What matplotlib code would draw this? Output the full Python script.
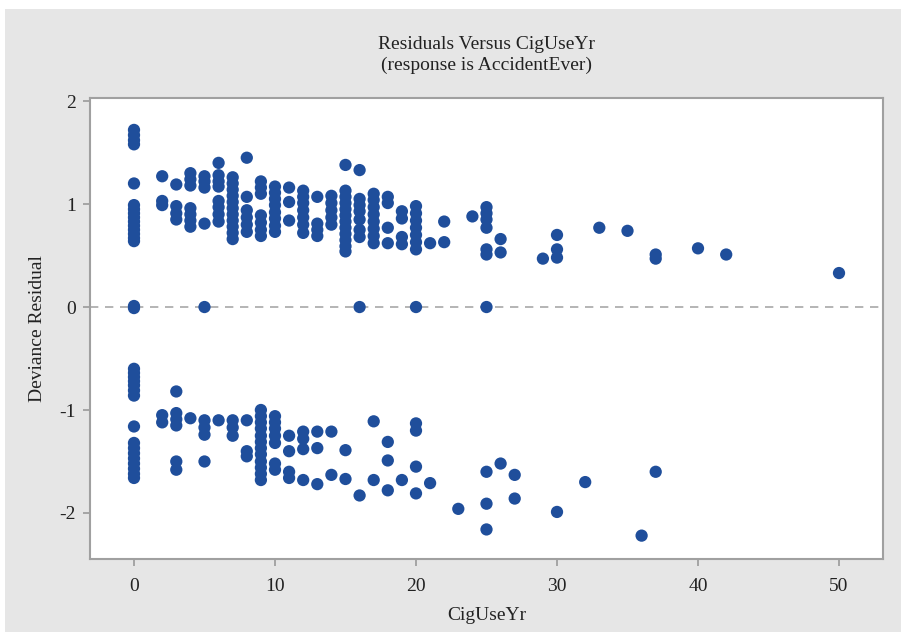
import matplotlib
matplotlib.use("Agg")
import matplotlib.pyplot as plt
from matplotlib.patches import Rectangle

# Observations with positive deviance residuals (CigUseYr, residual)
pos_years = (
    [0] * 15 + [2] * 3 + [3] * 4 + [4] * 7 + [5] * 4 + [6] * 8 + [7] * 11 + [8] * 6
    + [9] * 7 + [10] * 8 + [11] * 3 + [12] * 7 + [13] * 4 + [14] * 5 + [15] * 12
    + [16] * 7 + [17] * 8 + [18] * 4 + [19] * 4 + [20] * 7 + [21] + [22] * 2 + [24]
    + [25] * 6 + [26] * 2 + [29] + [30] * 3 + [33] + [35] + [37] * 2 + [40] + [42] + [50]
)
pos_resid = [
    1.72, 1.67, 1.62, 1.58, 1.20, 0.99, 0.95, 0.91, 0.87, 0.83, 0.79, 0.75, 0.71, 0.67, 0.64,
    1.27, 1.03, 0.99,
    1.19, 0.98, 0.91, 0.85,
    1.30, 1.24, 1.18, 0.96, 0.90, 0.84, 0.78,
    1.27, 1.22, 1.16, 0.81,
    1.40, 1.28, 1.22, 1.17, 1.03, 0.97, 0.90, 0.83,
    1.26, 1.20, 1.14, 1.08, 1.02, 0.96, 0.90, 0.84, 0.78, 0.72, 0.66,
    1.45, 1.07, 0.94, 0.87, 0.80, 0.73,
    1.22, 1.16, 1.10, 0.89, 0.82, 0.75, 0.69,
    1.17, 1.11, 1.05, 0.99, 0.92, 0.86, 0.79, 0.73,
    1.16, 1.02, 0.84,
    1.13, 1.07, 1.01, 0.94, 0.87, 0.80, 0.72,
    1.07, 0.81, 0.75, 0.69,
    1.08, 1.01, 0.94, 0.87, 0.80,
    1.38, 1.13, 1.07, 1.01, 0.95, 0.89, 0.83, 0.77, 0.71, 0.65, 0.59, 0.54,
    1.33, 1.05, 0.99, 0.93, 0.85, 0.75, 0.68,
    1.10, 1.04, 0.97, 0.90, 0.83, 0.76, 0.69, 0.62,
    1.07, 1.01, 0.77, 0.62,
    0.93, 0.86, 0.68, 0.61,
    0.98, 0.91, 0.84, 0.77, 0.70, 0.63, 0.56,
    0.62,
    0.83, 0.63,
    0.88,
    0.97, 0.91, 0.85, 0.77, 0.56, 0.51,
    0.66, 0.53,
    0.47,
    0.70, 0.56, 0.48,
    0.77,
    0.74,
    0.51, 0.47,
    0.57,
    0.51,
    0.33,
]

# Observations with zero deviance residual
zero_years = [0, 0, 5, 16, 20, 25]
zero_resid = [0.01, -0.01, 0.0, 0.0, 0.0, 0.0]

# Observations with negative deviance residuals
neg_years = (
    [0] * 16 + [2] * 2 + [3] * 6 + [4] + [5] * 4 + [6] + [7] * 3 + [8] * 3 + [9] * 12
    + [10] * 7 + [11] * 4 + [12] * 4 + [13] * 3 + [14] * 2 + [15] * 2 + [16]
    + [17] * 2 + [18] * 3 + [19] + [20] * 4 + [21] + [23] + [25] * 3 + [26]
    + [27] * 2 + [30] + [32] + [36] + [37]
)
neg_resid = [
    -0.60, -0.64, -0.68, -0.72, -0.76, -0.81, -0.86, -1.16,
    -1.32, -1.37, -1.42, -1.47, -1.52, -1.57, -1.62, -1.66,
    -1.05, -1.12,
    -0.82, -1.03, -1.09, -1.15, -1.50, -1.58,
    -1.08,
    -1.10, -1.17, -1.24, -1.50,
    -1.10,
    -1.10, -1.17, -1.25,
    -1.10, -1.40, -1.45,
    -1.00, -1.06, -1.12, -1.18, -1.25, -1.31, -1.37, -1.43, -1.50, -1.56, -1.62, -1.68,
    -1.06, -1.12, -1.18, -1.25, -1.32, -1.52, -1.58,
    -1.25, -1.40, -1.60, -1.66,
    -1.21, -1.28, -1.38, -1.68,
    -1.21, -1.37, -1.72,
    -1.21, -1.63,
    -1.39, -1.67,
    -1.83,
    -1.11, -1.68,
    -1.31, -1.49, -1.78,
    -1.68,
    -1.13, -1.20, -1.55, -1.81,
    -1.71,
    -1.96,
    -1.60, -1.91, -2.16,
    -1.52,
    -1.63, -1.86,
    -1.99,
    -1.70,
    -2.22,
    -1.60,
]

x_ticks = [0, 10, 20, 30, 40, 50]
y_ticks = [-2, -1, 0, 1, 2]

plt.rcParams["font.family"] = ["Liberation Serif", "DejaVu Serif"]
plt.rcParams["axes.unicode_minus"] = False

fig = plt.figure(figsize=(9.01, 6.35), dpi=100)
fig.patch.set_facecolor("white")
# grey panel behind the whole chart
panel = Rectangle((5 / 901, 1 - 632 / 635), 896 / 901, 623 / 635,
                  transform=fig.transFigure, facecolor="#e6e6e6",
                  edgecolor="none", zorder=-10)
fig.add_artist(panel)

ax = fig.add_axes([90 / 901, 1 - 559 / 635, 793 / 901, 461 / 635])
ax.set_zorder(1)
ax.set_facecolor("white")

dot = "#1f4e9b"
for xs, ys in ((pos_years, pos_resid), (zero_years, zero_resid), (neg_years, neg_resid)):
    ax.scatter(xs, ys, s=78, color=dot, edgecolors="none", zorder=3)

ax.axhline(0, color="#a8a8a8", linestyle=(0, (5, 4)), linewidth=1.2, zorder=1)

ax.set_xlim(-3.12, 53.12)
ax.set_ylim(-2.447, 2.03)
ax.set_xticks(x_ticks)
ax.set_yticks(y_ticks)

for sp in ax.spines.values():
    sp.set_color("#a0a0a0")
    sp.set_linewidth(1.5)

ax.tick_params(axis="both", colors="#a0a0a0", labelcolor="#222222",
               labelsize=14, length=5, width=1.3)
ax.tick_params(axis="x", pad=9)
ax.tick_params(axis="y", pad=5)

ax.set_xlabel("CigUseYr", fontsize=14, color="#222222", labelpad=8)
ax.set_ylabel("Deviance Residual", fontsize=14, color="#222222", labelpad=10)
ax.set_title("Residuals Versus CigUseYr\n(response is AccidentEver)",
             fontsize=14, color="#222222", pad=20, linespacing=1.3)

fig.savefig("out.png", dpi=100, facecolor=fig.get_facecolor())
